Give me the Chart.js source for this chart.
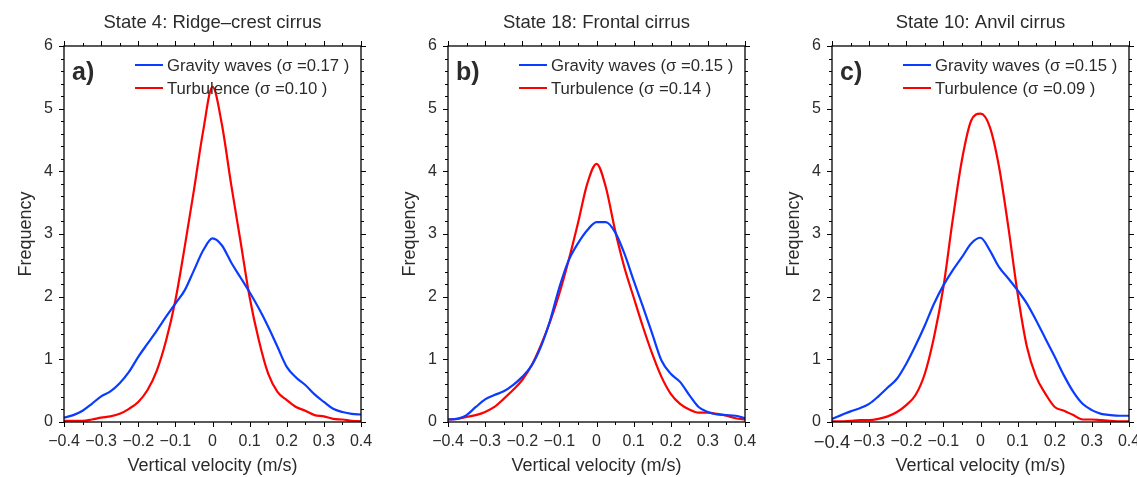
<!DOCTYPE html>
<html>
<head>
<meta charset="utf-8">
<title>Vertical velocity distributions</title>
<script src="https://cdn.jsdelivr.net/npm/chart.js@4/dist/chart.umd.min.js"></script>
<style>
  html, body { margin: 0; padding: 0; background: #fff; overflow: hidden; }
  body { width: 1137px; height: 477px; position: relative; }
  canvas { position: absolute; top: 0; }
</style>
</head>
<body>
<canvas id="panelA" width="372" height="477" style="left:0px"></canvas>
<canvas id="panelB" width="372" height="477" style="left:384px"></canvas>
<canvas id="panelC" width="372" height="477" style="left:768px"></canvas>
<script>
// Vertical velocity (m/s) sample positions
const velocity = [-0.4, -0.375, -0.35, -0.325, -0.3, -0.275, -0.25, -0.225, -0.2, -0.175, -0.15, -0.125, -0.1, -0.075, -0.05, -0.025,
  0, 0.025, 0.05, 0.075, 0.1, 0.125, 0.15, 0.175, 0.2, 0.225, 0.25, 0.275, 0.3, 0.325, 0.35, 0.375, 0.4];

// a) State 4: Ridge-crest cirrus
const gravityA = [0.07, 0.11, 0.18, 0.29, 0.41, 0.49, 0.62, 0.80, 1.04, 1.25, 1.46, 1.68, 1.89, 2.10, 2.42, 2.74,
  2.93, 2.82, 2.55, 2.31, 2.07, 1.81, 1.52, 1.20, 0.88, 0.71, 0.59, 0.44, 0.32, 0.21, 0.16, 0.13, 0.12];
const turbulenceA = [0.02, 0.02, 0.02, 0.04, 0.07, 0.09, 0.13, 0.21, 0.32, 0.51, 0.82, 1.30, 1.94, 2.79, 3.70, 4.65,
  5.35, 4.76, 3.80, 2.90, 1.99, 1.30, 0.77, 0.48, 0.35, 0.24, 0.18, 0.11, 0.09, 0.05, 0.04, 0.02, 0.01];

// b) State 18: Frontal cirrus
const gravityB = [0.04, 0.05, 0.11, 0.24, 0.36, 0.43, 0.49, 0.59, 0.72, 0.90, 1.20, 1.62, 2.15, 2.58, 2.85, 3.06,
  3.19, 3.19, 3.03, 2.69, 2.26, 1.84, 1.41, 0.98, 0.77, 0.64, 0.43, 0.24, 0.16, 0.12, 0.11, 0.10, 0.06];
const turbulenceB = [0.04, 0.05, 0.08, 0.11, 0.16, 0.24, 0.37, 0.51, 0.67, 0.90, 1.22, 1.60, 2.05, 2.58, 3.17, 3.80,
  4.12, 3.75, 3.06, 2.47, 1.99, 1.52, 1.09, 0.72, 0.45, 0.29, 0.20, 0.15, 0.15, 0.13, 0.10, 0.06, 0.04];

// c) State 10: Anvil cirrus
const gravityC = [0.05, 0.11, 0.17, 0.22, 0.29, 0.41, 0.55, 0.69, 0.93, 1.22, 1.54, 1.89, 2.18, 2.42, 2.63, 2.85,
  2.94, 2.74, 2.47, 2.29, 2.10, 1.89, 1.62, 1.33, 1.04, 0.74, 0.48, 0.29, 0.19, 0.13, 0.11, 0.10, 0.10];
const turbulenceC = [0.01, 0.01, 0.02, 0.03, 0.03, 0.05, 0.09, 0.16, 0.27, 0.43, 0.77, 1.36, 2.15, 3.22, 4.18, 4.81,
  4.92, 4.71, 4.07, 3.11, 2.05, 1.20, 0.72, 0.45, 0.24, 0.18, 0.11, 0.04, 0.04, 0.03, 0.02, 0.01, 0.01];

const panelTitles = ["State 4: Ridge\u2013crest cirrus", "State 18: Frontal cirrus", "State 10: Anvil cirrus"];
const panelLetters = ["a)", "b)", "c)"];
const gravitySigma = ["0.17", "0.15", "0.15"];
const turbulenceSigma = ["0.10", "0.14", "0.09"];

const FONT = "'Liberation Sans', Arial, Helvetica, sans-serif";
const TEXT = "#2b2b2b";
Chart.defaults.font.family = FONT;
Chart.defaults.color = TEXT;

// frame, outward ticks, title, panel letter and legend
const panelDecor = {
  id: "panelDecor",
  afterDraw(chart, args, opts) {
    const { ctx, chartArea: a } = chart;
    const xs = chart.scales.x;
    const ys = chart.scales.y;
    ctx.save();
    ctx.strokeStyle = "#000";
    ctx.lineWidth = 1.3;
    ctx.strokeRect(a.left, a.top, a.right - a.left, a.bottom - a.top);
    ctx.lineWidth = 1;
    ctx.beginPath();
    for (let i = -8; i <= 8; i++) {
      const px = Math.round(xs.getPixelForValue(i * 0.05)) + 0.5;
      const len = i % 2 === 0 ? 5 : 3;
      ctx.moveTo(px, a.bottom); ctx.lineTo(px, a.bottom + len);
      ctx.moveTo(px, a.top); ctx.lineTo(px, a.top - len);
    }
    for (let i = 0; i <= 30; i++) {
      const py = Math.round(ys.getPixelForValue(i * 0.2)) + 0.5;
      const len = i % 5 === 0 ? 5 : 3;
      ctx.moveTo(a.left, py); ctx.lineTo(a.left - len, py);
      ctx.moveTo(a.right, py); ctx.lineTo(a.right + len, py);
    }
    ctx.stroke();

    // title
    ctx.fillStyle = TEXT;
    ctx.font = "18.5px " + FONT;
    ctx.textAlign = "center";
    ctx.textBaseline = "middle";
    ctx.fillText(opts.title, (a.left + a.right) / 2, 23);

    // panel letter
    ctx.font = "bold 25px " + FONT;
    ctx.textAlign = "left";
    ctx.fillText(opts.letter, a.left + 8, a.top + 27);

    // legend
    ctx.font = "16.7px " + FONT;
    chart.data.datasets.forEach((ds, k) => {
      const ly = a.top + 19 + k * 23;
      ctx.strokeStyle = ds.borderColor;
      ctx.lineWidth = 2;
      ctx.beginPath();
      ctx.moveTo(a.left + 71, ly);
      ctx.lineTo(a.left + 99, ly);
      ctx.stroke();
      ctx.fillStyle = TEXT;
      ctx.fillText(ds.label, a.left + 103, ly + 1);
    });
    ctx.restore();
  }
};

function formatVelocity(v) {
  const r = Math.round(v * 10) / 10;
  if (r === 0) return "0";
  return r.toFixed(1).replace("-", "\u2212");
}

function makePanel(canvasId, idx, gravity, turbulence, bigFirstTick) {
  const ctx = document.getElementById(canvasId).getContext("2d");
  new Chart(ctx, {
    type: "line",
    data: {
      datasets: [
        {
          label: "Gravity waves (\u03c3 =" + gravitySigma[idx] + " )",
          data: velocity.map((v, i) => ({ x: v, y: gravity[i] })),
          borderColor: "#0a3cff",
          borderWidth: 2.2,
          pointRadius: 0,
          cubicInterpolationMode: "monotone",
          fill: false
        },
        {
          label: "Turbulence (\u03c3 =" + turbulenceSigma[idx] + " )",
          data: velocity.map((v, i) => ({ x: v, y: turbulence[i] })),
          borderColor: "#ff0000",
          borderWidth: 2.2,
          pointRadius: 0,
          cubicInterpolationMode: "monotone",
          fill: false
        }
      ]
    },
    options: {
      responsive: false,
      animation: false,
      layout: { padding: { top: 46, right: 11, left: 0, bottom: 0 } },
      plugins: {
        legend: { display: false },
        title: { display: false },
        tooltip: { enabled: false },
        panelDecor: { title: panelTitles[idx], letter: panelLetters[idx] }
      },
      scales: {
        x: {
          type: "linear",
          min: -0.4,
          max: 0.4,
          grid: { display: false, drawTicks: false },
          border: { display: false },
          ticks: {
            stepSize: 0.1,
            padding: 10,
            maxRotation: 0,
            autoSkip: false,
            color: TEXT,
            font: (c) => ({ size: bigFirstTick && c.index === 0 ? 18.5 : 16 }),
            callback: (v) => formatVelocity(v)
          },
          title: {
            display: true,
            text: "Vertical velocity (m/s)",
            color: TEXT,
            font: { size: 18 },
            padding: { top: 0, bottom: 0 }
          },
          afterFit: (s) => { s.height = 55; s.paddingLeft = 0; s.paddingRight = 0; }
        },
        y: {
          min: 0,
          max: 6,
          grid: { display: false, drawTicks: false },
          border: { display: false },
          ticks: { stepSize: 1, padding: 11, color: TEXT, font: { size: 16 } },
          title: {
            display: true,
            text: "Frequency",
            color: TEXT,
            font: { size: 18 },
            padding: { top: 15, bottom: 0 }
          },
          afterFit: (s) => { s.width = 64; }
        }
      }
    },
    plugins: [panelDecor]
  });
}

makePanel("panelA", 0, gravityA, turbulenceA, false);
makePanel("panelB", 1, gravityB, turbulenceB, false);
makePanel("panelC", 2, gravityC, turbulenceC, true);
</script>
</body>
</html>
